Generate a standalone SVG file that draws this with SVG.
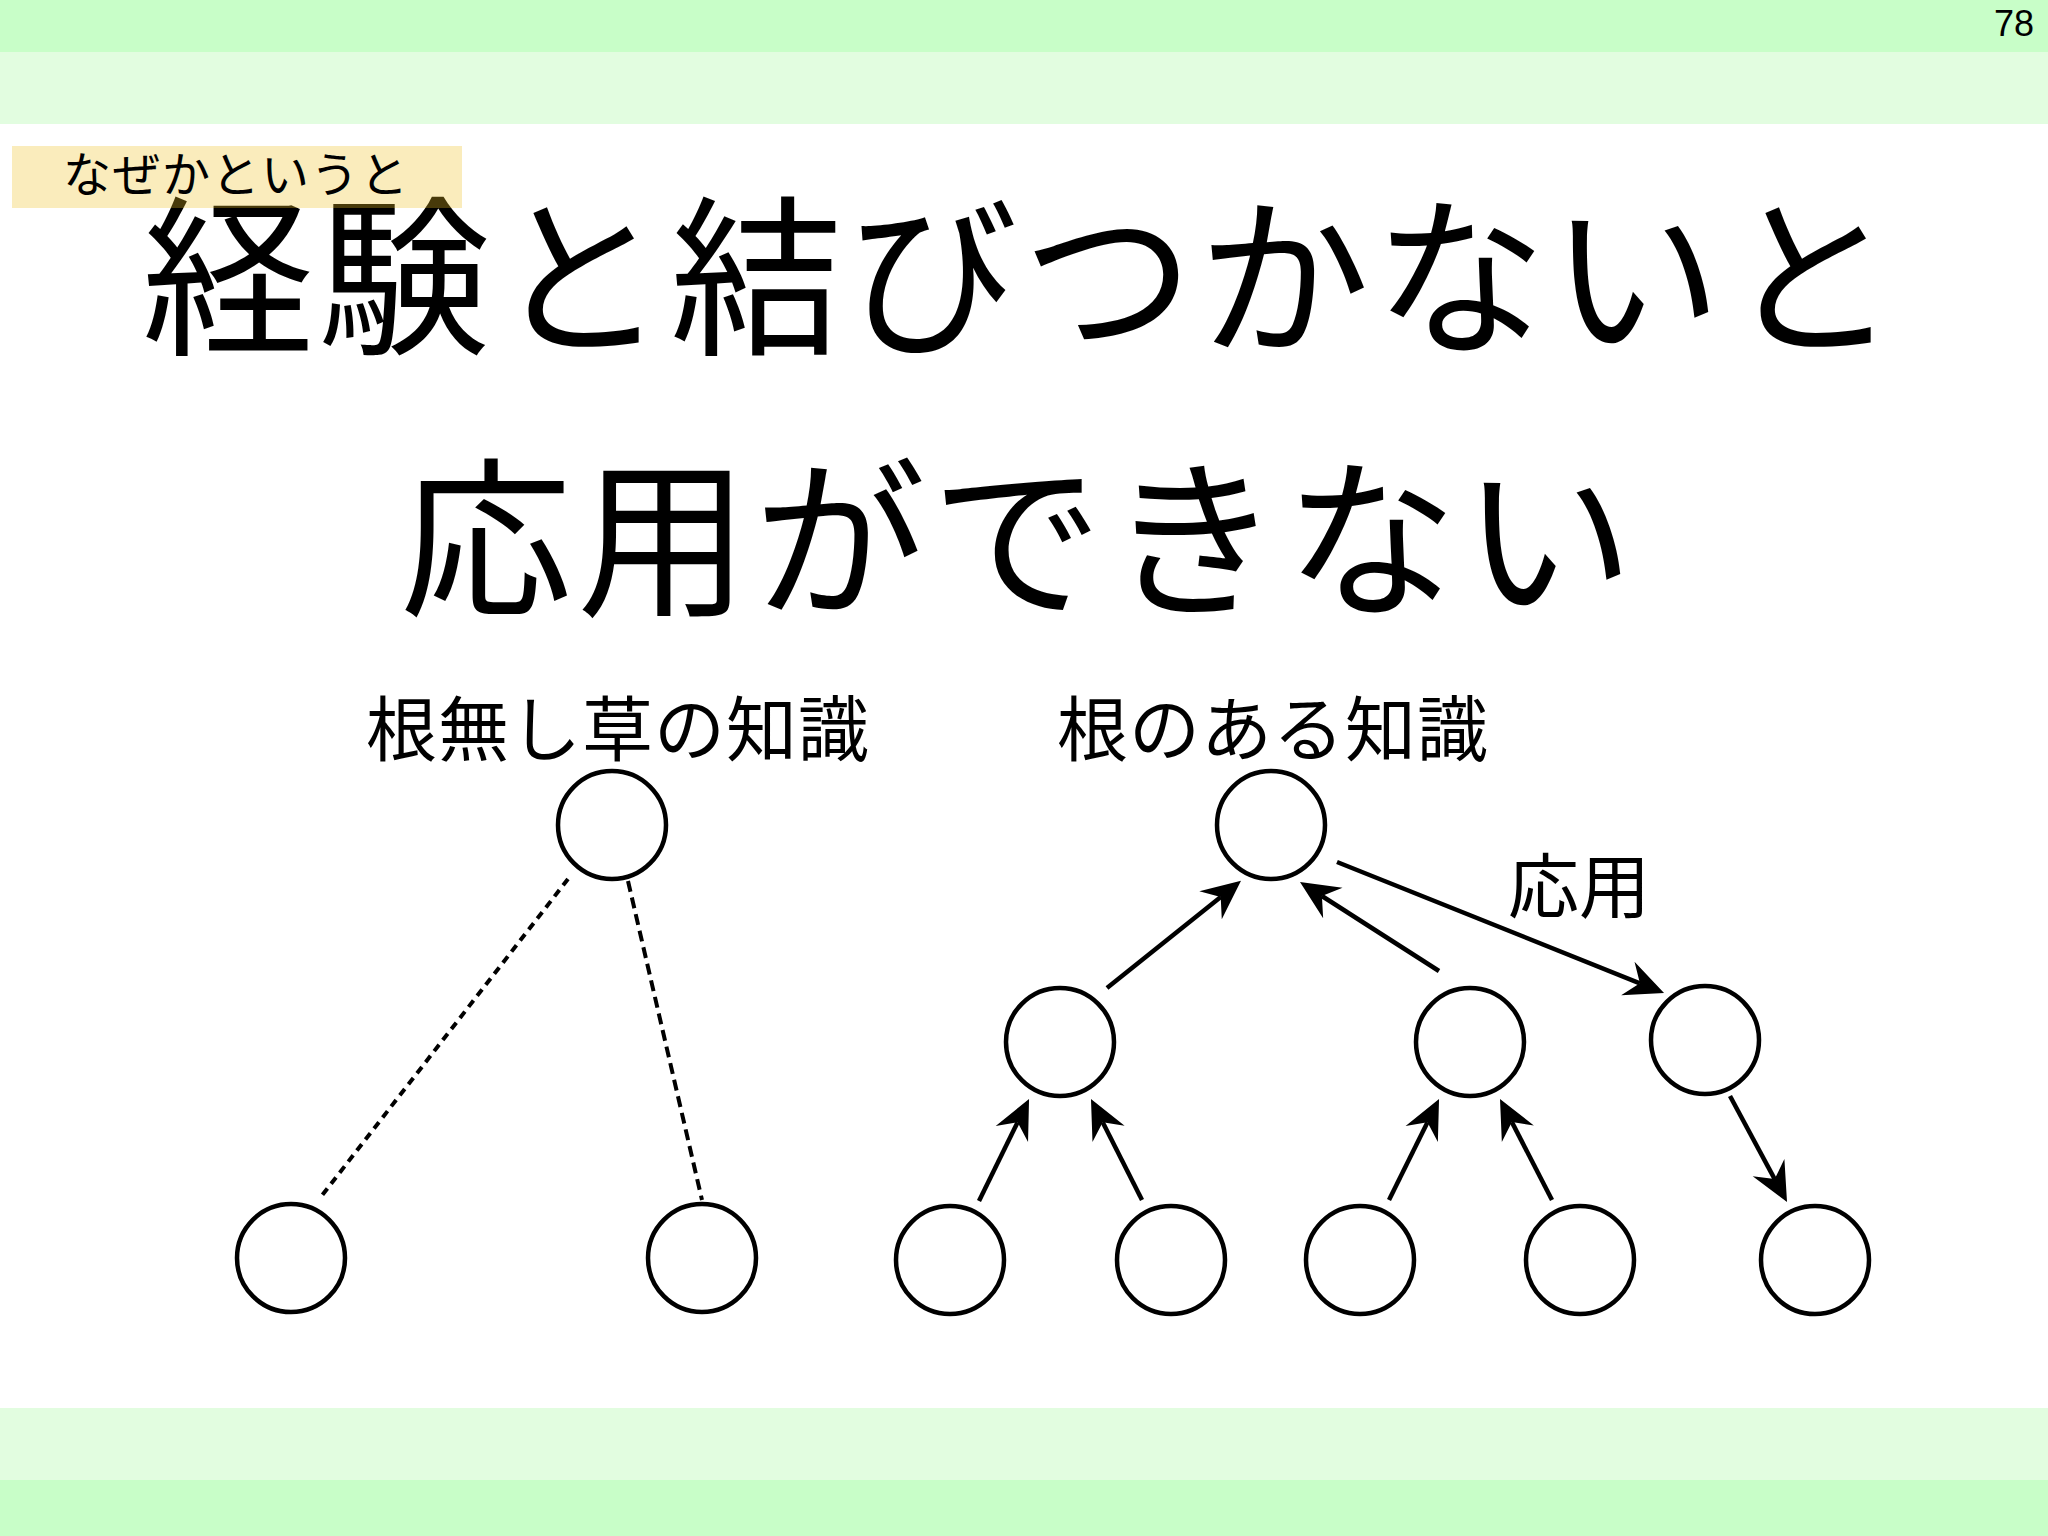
<svg xmlns="http://www.w3.org/2000/svg" width="2048" height="1536" viewBox="0 0 2048 1536">
<style>
.jp{font-family:"Noto Sans CJK JP","Noto Sans CJK SC",sans-serif;fill:#000}
.node{fill:#fff;stroke:#000;stroke-width:4.5}
.dash{stroke:#000;stroke-width:4;fill:none}
.arr{stroke:#000;stroke-width:4.5;fill:none;marker-end:url(#ah)}
</style>
<defs>
<marker id="ah" markerUnits="userSpaceOnUse" viewBox="-16 -22 50 44" markerWidth="50" markerHeight="44" refX="0" refY="0" orient="auto">
<path d="M26,0 L-13,-18 L0,0 L-13,18 Z" fill="#000"/>
</marker>
</defs>
<rect x="0" y="0" width="2048" height="1536" fill="#fff"/>
<g id="bands">
<rect x="0" y="0" width="2048" height="52" fill="#c8fec8"/>
<rect x="0" y="52" width="2048" height="72" fill="#e2fde0"/>
<rect x="0" y="1408" width="2048" height="72" fill="#e2fde0"/>
<rect x="0" y="1480" width="2048" height="56" fill="#c8fec8"/>
</g>
<text x="2034" y="36" font-family="Liberation Sans, Arial, sans-serif" font-size="36" text-anchor="end" fill="#000">78</text>
<g id="title">
<text class="jp" x="142" y="341" font-size="172" letter-spacing="4">経験と結びつかないと</text>
<text class="jp" x="400" y="603" font-size="172" letter-spacing="5">応用ができない</text>
</g>
<g id="tag">
<rect x="12" y="146" width="450" height="62" fill="#f0c020" fill-opacity="0.3"/>
<text class="jp" x="63" y="192" font-size="48" letter-spacing="1.5">なぜかというと</text>
</g>
<g id="labels">
<text class="jp" x="366" y="755" font-size="71" letter-spacing="1">根無し草の知識</text>
<text class="jp" x="1057" y="755" font-size="71" letter-spacing="1">根のある知識</text>
<text class="jp" x="1508" y="912" font-size="71">応用</text>
</g>
<g id="connectors">
<line class="dash" x1="568" y1="879" x2="320" y2="1198" stroke-dasharray="8 6"/>
<line class="dash" x1="628" y1="881" x2="702" y2="1200" stroke-dasharray="11 6"/>
<line class="arr" x1="1107" y1="988" x2="1220.7" y2="897.1"/>
<line class="arr" x1="1439" y1="971" x2="1321.9" y2="896.0"/>
<line class="arr" x1="1337" y1="862" x2="1639.9" y2="983.3"/>
<line class="arr" x1="979" y1="1201" x2="1017.6" y2="1122.3"/>
<line class="arr" x1="1142" y1="1200" x2="1102.7" y2="1122.2"/>
<line class="arr" x1="1389" y1="1200" x2="1427.5" y2="1122.3"/>
<line class="arr" x1="1552" y1="1200" x2="1511.9" y2="1122.1"/>
<line class="arr" x1="1730" y1="1096" x2="1774.7" y2="1179.1"/>
</g>
<g id="left-root"><circle class="node" cx="612" cy="825" r="54"/></g>
<g id="left-leaf1"><circle class="node" cx="291" cy="1258" r="54"/></g>
<g id="left-leaf2"><circle class="node" cx="702" cy="1258" r="54"/></g>
<g id="right-root"><circle class="node" cx="1271" cy="825" r="54"/></g>
<g id="mid1"><circle class="node" cx="1060" cy="1042" r="54"/></g>
<g id="mid2"><circle class="node" cx="1470" cy="1042" r="54"/></g>
<g id="mid3"><circle class="node" cx="1705" cy="1040" r="54"/></g>
<g id="leaf1"><circle class="node" cx="950" cy="1260" r="54"/></g>
<g id="leaf2"><circle class="node" cx="1171" cy="1260" r="54"/></g>
<g id="leaf3"><circle class="node" cx="1360" cy="1260" r="54"/></g>
<g id="leaf4"><circle class="node" cx="1580" cy="1260" r="54"/></g>
<g id="leaf5"><circle class="node" cx="1815" cy="1260" r="54"/></g>
</svg>
